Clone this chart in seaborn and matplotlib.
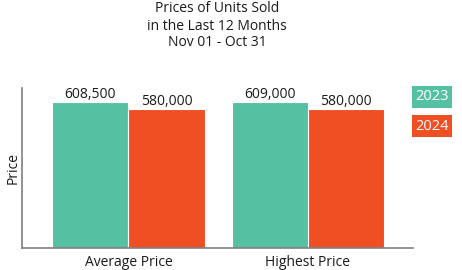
import matplotlib
matplotlib.use("Agg")
import matplotlib.pyplot as plt
from matplotlib.patches import Rectangle
import seaborn as sns
import pandas as pd

categories = ["Average Price", "Highest Price"]
years = ["2023", "2024"]
values_2023 = [608500, 609000]
values_2024 = [580000, 580000]
title_lines = ["Prices of Units Sold", "in the Last 12 Months", "Nov 01 - Oct 31"]
colors = {"2023": "#55C0A2", "2024": "#F04E23"}

df = pd.DataFrame({
    "Category": categories * 2,
    "Year": [years[0]] * len(categories) + [years[1]] * len(categories),
    "Price": values_2023 + values_2024,
})

sns.set_theme(style="white")
plt.rcParams["font.family"] = ["Open Sans", "DejaVu Sans"]

W, H = 462, 270
fig = plt.figure(figsize=(W / 100, H / 100), dpi=100)
ax_l, ax_r, ax_t, ax_b = 22, 413, 88, 248
ax = fig.add_axes([ax_l / W, 1 - ax_b / H, (ax_r - ax_l) / W, (ax_b - ax_t) / H])

sns.barplot(data=df, x="Category", y="Price", hue="Year", palette=colors,
            width=0.85, gap=0.0, ax=ax, legend=False, saturation=1,
            edgecolor="white", linewidth=0.8)

fs = 10
for cont in ax.containers:
    ax.bar_label(cont, labels=[f"{v:,.0f}" for v in cont.datavalues],
                 padding=0, fontsize=fs, color="#1a1a1a")

ax.set_ylim(0, 667000)
ax.set_xlim(-0.593, 1.585)
ax.set_yticks([])
ax.set_xlabel("")
ax.set_ylabel("Price", fontsize=fs, color="#1a1a1a", labelpad=1)
ax.tick_params(axis="x", length=0, labelsize=fs, labelcolor="#1a1a1a", pad=5)
for s in ["top", "right"]:
    ax.spines[s].set_visible(False)
for s in ["left", "bottom"]:
    ax.spines[s].set_color("#808080")
    ax.spines[s].set_linewidth(1.2)

for i, line in enumerate(title_lines):
    fig.text(217 / W, 1 - (9 + 17 * i) / H, line, ha="center", va="center",
             fontsize=fs, color="#1a1a1a")

# legend boxes
for i, yr in enumerate(years):
    y0 = 86 + 29 * i
    fig.patches.append(Rectangle((412 / W, 1 - (y0 + 22) / H), 40 / W, 22 / H,
                                 transform=fig.transFigure, fc=colors[yr], ec="none"))
    fig.text(432 / W, 1 - (y0 + 11) / H, yr, ha="center", va="center",
             fontsize=10.5, color="white")

fig.savefig("out.png", dpi=100)
